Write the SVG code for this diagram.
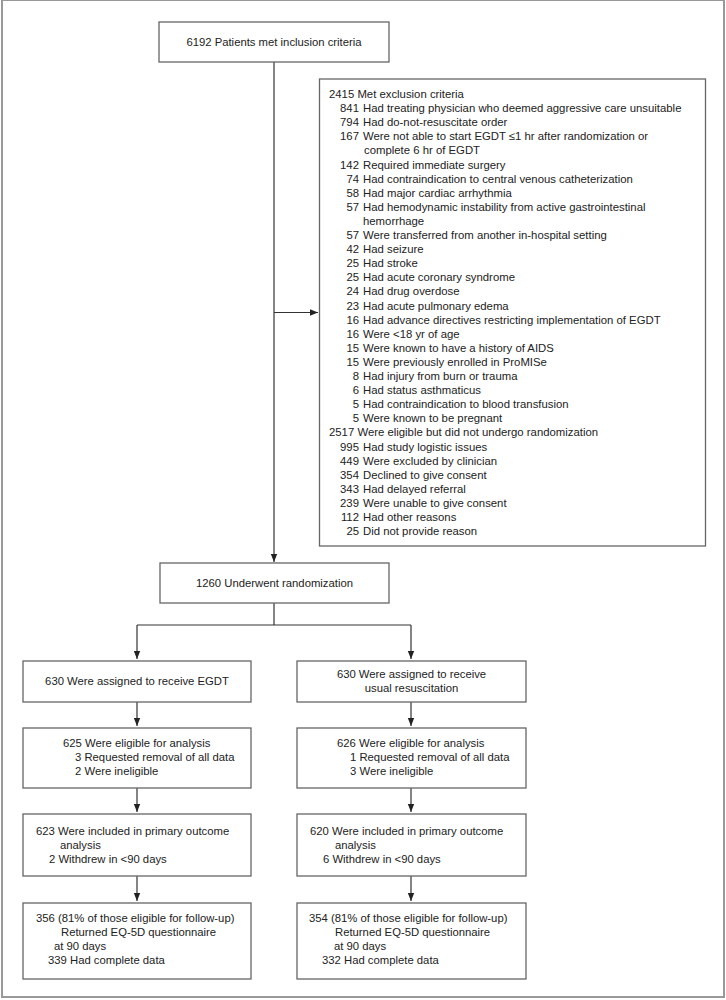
<svg xmlns="http://www.w3.org/2000/svg" width="726" height="1000" viewBox="0 0 726 1000">
<style>
.box{fill:#fff;stroke:#666;stroke-width:1.3}
.frame{fill:none;stroke:#999;stroke-width:2}
text{font-family:"Liberation Sans",Arial,sans-serif;fill:#222}
.t{font-size:11.35px}
.s{font-size:11.3px}
.c{text-anchor:middle}
.n{text-anchor:end}
.ln{stroke:#333;stroke-width:1.2;fill:none}
</style>
<defs>
<marker id="ah" viewBox="0 0 10 10" refX="10" refY="5" markerWidth="8" markerHeight="8" markerUnits="userSpaceOnUse" orient="auto">
<path d="M0,1 L10,5 L0,9 Z" fill="#222"/>
</marker>
</defs>
<rect width="726" height="1000" fill="#fff"/>
<rect class="frame" x="2" y="0" width="722" height="997"/>

<g id="connectors">
<line class="ln" x1="274" y1="62" x2="274" y2="562" marker-end="url(#ah)"/>
<line class="ln" x1="274" y1="312.5" x2="318" y2="312.5" marker-end="url(#ah)"/>
<line class="ln" x1="274" y1="603" x2="274" y2="625"/>
<line class="ln" x1="137" y1="625" x2="411" y2="625"/>
<line class="ln" x1="137" y1="625" x2="137" y2="659" marker-end="url(#ah)"/>
<line class="ln" x1="411" y1="625" x2="411" y2="659" marker-end="url(#ah)"/>
<line class="ln" x1="137" y1="702" x2="137" y2="726" marker-end="url(#ah)"/>
<line class="ln" x1="411" y1="702" x2="411" y2="726" marker-end="url(#ah)"/>
<line class="ln" x1="137" y1="788" x2="137" y2="812" marker-end="url(#ah)"/>
<line class="ln" x1="411" y1="788" x2="411" y2="812" marker-end="url(#ah)"/>
<line class="ln" x1="137" y1="876" x2="137" y2="901" marker-end="url(#ah)"/>
<line class="ln" x1="411" y1="876" x2="411" y2="901" marker-end="url(#ah)"/>
</g>

<g id="inclusion">
<rect class="box" x="159" y="22" width="230" height="40"/>
<text class="s c" x="274" y="46">6192 Patients met inclusion criteria</text>
</g>

<g id="exclusion">
<rect class="box" x="319.5" y="79" width="386" height="467"/>
<text class="t" x="329" y="98">2415 Met exclusion criteria</text>
<text class="t n" x="359" y="112.1">841</text><text class="t" x="363" y="112.1">Had treating physician who deemed aggressive care unsuitable</text>
<text class="t n" x="359" y="126.2">794</text><text class="t" x="363" y="126.2">Had do-not-resuscitate order</text>
<text class="t n" x="359" y="140.3">167</text><text class="t" x="363" y="140.3">Were not able to start EGDT ≤1 hr after randomization or</text>
<text class="t" x="364" y="154.4">complete 6 hr of EGDT</text>
<text class="t n" x="359" y="168.5">142</text><text class="t" x="363" y="168.5">Required immediate surgery</text>
<text class="t n" x="359" y="182.6">74</text><text class="t" x="363" y="182.6">Had contraindication to central venous catheterization</text>
<text class="t n" x="359" y="196.7">58</text><text class="t" x="363" y="196.7">Had major cardiac arrhythmia</text>
<text class="t n" x="359" y="210.8">57</text><text class="t" x="363" y="210.8">Had hemodynamic instability from active gastrointestinal</text>
<text class="t" x="363" y="224.9">hemorrhage</text>
<text class="t n" x="359" y="239">57</text><text class="t" x="363" y="239">Were transferred from another in-hospital setting</text>
<text class="t n" x="359" y="253.1">42</text><text class="t" x="363" y="253.1">Had seizure</text>
<text class="t n" x="359" y="267.2">25</text><text class="t" x="363" y="267.2">Had stroke</text>
<text class="t n" x="359" y="281.3">25</text><text class="t" x="363" y="281.3">Had acute coronary syndrome</text>
<text class="t n" x="359" y="295.4">24</text><text class="t" x="363" y="295.4">Had drug overdose</text>
<text class="t n" x="359" y="309.5">23</text><text class="t" x="363" y="309.5">Had acute pulmonary edema</text>
<text class="t n" x="359" y="323.6">16</text><text class="t" x="363" y="323.6">Had advance directives restricting implementation of EGDT</text>
<text class="t n" x="359" y="337.7">16</text><text class="t" x="363" y="337.7">Were &lt;18 yr of age</text>
<text class="t n" x="359" y="351.8">15</text><text class="t" x="363" y="351.8">Were known to have a history of AIDS</text>
<text class="t n" x="359" y="365.9">15</text><text class="t" x="363" y="365.9">Were previously enrolled in ProMISe</text>
<text class="t n" x="359" y="380">8</text><text class="t" x="363" y="380">Had injury from burn or trauma</text>
<text class="t n" x="359" y="394.1">6</text><text class="t" x="363" y="394.1">Had status asthmaticus</text>
<text class="t n" x="359" y="408.2">5</text><text class="t" x="363" y="408.2">Had contraindication to blood transfusion</text>
<text class="t n" x="359" y="422.3">5</text><text class="t" x="363" y="422.3">Were known to be pregnant</text>
<text class="t" x="329" y="436.4">2517 Were eligible but did not undergo randomization</text>
<text class="t n" x="359" y="450.5">995</text><text class="t" x="363" y="450.5">Had study logistic issues</text>
<text class="t n" x="359" y="464.6">449</text><text class="t" x="363" y="464.6">Were excluded by clinician</text>
<text class="t n" x="359" y="478.7">354</text><text class="t" x="363" y="478.7">Declined to give consent</text>
<text class="t n" x="359" y="492.8">343</text><text class="t" x="363" y="492.8">Had delayed referral</text>
<text class="t n" x="359" y="506.9">239</text><text class="t" x="363" y="506.9">Were unable to give consent</text>
<text class="t n" x="359" y="521">112</text><text class="t" x="363" y="521">Had other reasons</text>
<text class="t n" x="359" y="535.1">25</text><text class="t" x="363" y="535.1">Did not provide reason</text>
</g>

<g id="randomization">
<rect class="box" x="160" y="563" width="229" height="40"/>
<text class="s c" x="274.5" y="587">1260 Underwent randomization</text>
</g>

<g id="assigned-egdt">
<rect class="box" x="23" y="661" width="228" height="41"/>
<text class="s c" x="137" y="685">630 Were assigned to receive EGDT</text>
</g>
<g id="assigned-usual">
<rect class="box" x="297" y="661" width="229" height="41"/>
<text class="s c" x="411.5" y="678">630 Were assigned to receive</text>
<text class="s c" x="411.5" y="692">usual resuscitation</text>
</g>

<g id="eligible-egdt">
<rect class="box" x="23" y="728" width="228" height="60"/>
<text class="s" x="63" y="747">625 Were eligible for analysis</text>
<text class="s" x="75" y="761">3 Requested removal of all data</text>
<text class="s" x="75" y="775">2 Were ineligible</text>
</g>
<g id="eligible-usual">
<rect class="box" x="297" y="728" width="229" height="60"/>
<text class="s" x="337" y="747">626 Were eligible for analysis</text>
<text class="s" x="350" y="761">1 Requested removal of all data</text>
<text class="s" x="350" y="775">3 Were ineligible</text>
</g>

<g id="primary-egdt">
<rect class="box" x="23" y="814" width="228" height="62"/>
<text class="s" x="36" y="835">623 Were included in primary outcome</text>
<text class="s" x="60" y="849">analysis</text>
<text class="s" x="49" y="863">2 Withdrew in &lt;90 days</text>
</g>
<g id="primary-usual">
<rect class="box" x="297" y="814" width="229" height="62"/>
<text class="s" x="310" y="835">620 Were included in primary outcome</text>
<text class="s" x="335" y="849">analysis</text>
<text class="s" x="323" y="863">6 Withdrew in &lt;90 days</text>
</g>

<g id="followup-egdt">
<rect class="box" x="23" y="903" width="228" height="76"/>
<text class="s" x="36" y="922">356 (81% of those eligible for follow-up)</text>
<text class="s" x="61" y="936">Returned EQ-5D questionnaire</text>
<text class="s" x="54" y="950">at 90 days</text>
<text class="s" x="48" y="964">339 Had complete data</text>
</g>
<g id="followup-usual">
<rect class="box" x="297" y="903" width="229" height="76"/>
<text class="s" x="309" y="922">354 (81% of those eligible for follow-up)</text>
<text class="s" x="335" y="936">Returned EQ-5D questionnaire</text>
<text class="s" x="334" y="950">at 90 days</text>
<text class="s" x="322" y="964">332 Had complete data</text>
</g>
</svg>
